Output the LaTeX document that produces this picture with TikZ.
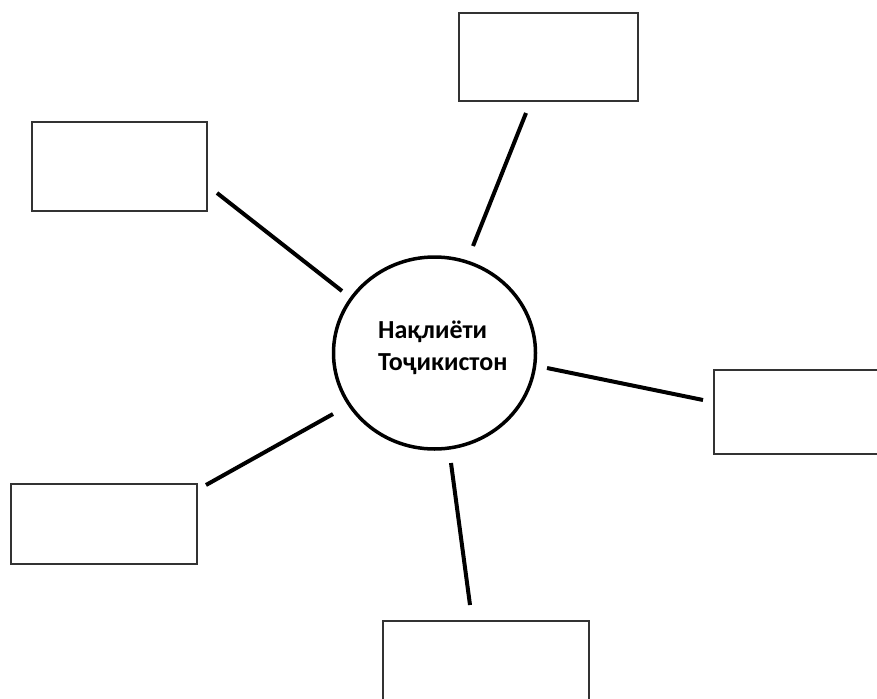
\documentclass[tikz,border=0pt]{standalone}
\usepackage{fontspec}
\setmainfont{Carlito}
\usetikzlibrary{shapes.geometric}
\begin{document}
\begin{tikzpicture}[x=1pt,y=-1pt,
  emptybox/.style={draw=black!80,line width=1.5pt},
  hub/.style={draw=black,line width=3.5pt,ellipse,minimum width=202pt,minimum height=192pt,inner sep=0pt},
  spoke/.style={line width=4pt,black}]
\clip (0,0) rectangle (877,698);
\fill[white] (0,0) rectangle (877,698);
% central circle
\node[hub] (c) at (434.5,353) {};
\node[anchor=base west,align=left,font=\bfseries\fontsize{26}{32}\selectfont,inner sep=0pt] (t) at (378,370) {Нақлиёти\\Тоҷикистон};
% boxes
\draw[emptybox] (32,122) rectangle (207,211);
\node[inner sep=0pt] (b1) at (119.5,166.5) {};
\draw[emptybox] (459,13) rectangle (638,101);
\node[inner sep=0pt] (b2) at (548.5,57) {};
\draw[emptybox] (714,370) rectangle (890,454);
\node[inner sep=0pt] (b3) at (800,412) {};
\draw[emptybox] (11,484) rectangle (197,564);
\node[inner sep=0pt] (b4) at (104,524) {};
\draw[emptybox] (383,621) rectangle (589,710);
\node[inner sep=0pt] (b5) at (486,660) {};
% connector endpoints
\coordinate (p1a) at (217,193); \coordinate (p1b) at (342,291);
\coordinate (p2a) at (526,113); \coordinate (p2b) at (473,246);
\coordinate (p3a) at (547,368); \coordinate (p3b) at (703,400);
\coordinate (p4a) at (333,414); \coordinate (p4b) at (206,485);
\coordinate (p5a) at (451,463); \coordinate (p5b) at (470,605);
\draw[spoke] (p1a) -- (p1b);
\draw[spoke] (p2a) -- (p2b);
\draw[spoke] (p3a) -- (p3b);
\draw[spoke] (p4a) -- (p4b);
\draw[spoke] (p5a) -- (p5b);
\end{tikzpicture}
\end{document}
